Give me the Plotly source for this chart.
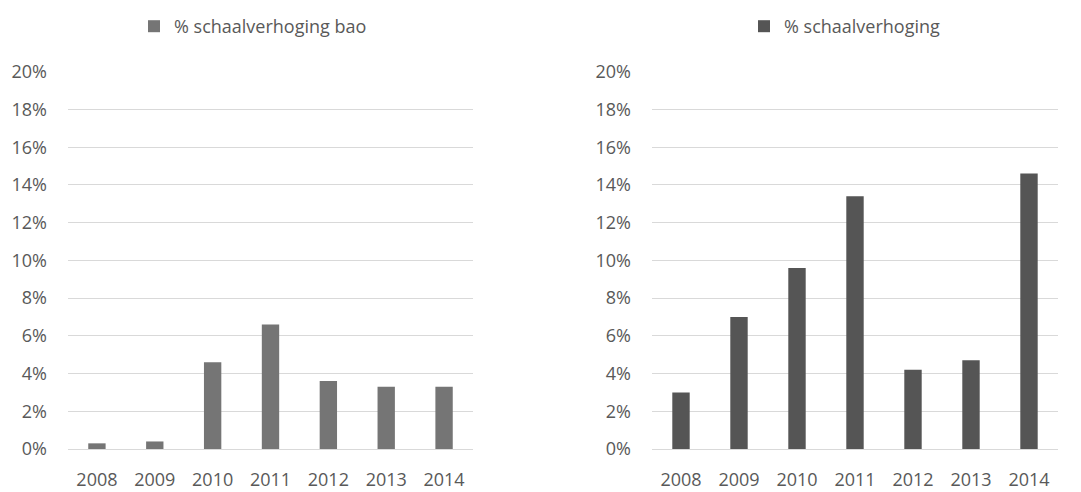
import plotly.graph_objects as go
from plotly.subplots import make_subplots

years = ["2008", "2009", "2010", "2011", "2012", "2013", "2014"]
bao_pct = [0.003, 0.004, 0.046, 0.066, 0.036, 0.033, 0.033]
total_pct = [0.030, 0.070, 0.096, 0.134, 0.042, 0.047, 0.146]

tick_vals = [0, 0.02, 0.04, 0.06, 0.08, 0.10, 0.12, 0.14, 0.16, 0.18, 0.20]
tick_text = ["0%", "2%", "4%", "6%", "8%", "10%", "12%", "14%", "16%", "18%", "20%"]

text_col = "#595959"
font_name = "Open Sans"

# page has an 8px body margin, so the figure is a bit smaller than the window
W, H = 1073, 484

fig = make_subplots(rows=1, cols=2)

fig.add_trace(go.Bar(x=years, y=bao_pct, name="% schaalverhoging bao",
                     marker_color="#757575", legend="legend", showlegend=True),
              row=1, col=1)
fig.add_trace(go.Bar(x=years, y=total_pct, name="% schaalverhoging",
                     marker_color="#555555", legend="legend2", showlegend=True),
              row=1, col=2)

fig.update_traces(marker_line_width=0)

ydom = [1 - 441 / H, 1 - 63 / H]
fig.update_layout(
    width=W, height=H,
    margin=dict(l=0, r=0, t=0, b=0, autoexpand=False),
    paper_bgcolor="white", plot_bgcolor="white",
    bargap=0.70,
    showlegend=True,
    font=dict(family=font_name, size=18, color=text_col),
    xaxis=dict(domain=[60 / W, 465 / W]),
    xaxis2=dict(domain=[644 / W, 1050 / W]),
    yaxis=dict(domain=ydom),
    yaxis2=dict(domain=ydom),
    legend=dict(x=245 / W, y=1, xanchor="center", yanchor="top",
                orientation="h", font=dict(size=18, color=text_col)),
    legend2=dict(x=837 / W, y=1, xanchor="center", yanchor="top",
                 orientation="h", font=dict(size=18, color=text_col)),
)

fig.update_xaxes(showgrid=False, showline=False, ticks="", ticklabelstandoff=18,
                 tickfont=dict(size=18, color=text_col))
fig.update_yaxes(range=[0, 0.2004], tickvals=tick_vals, ticktext=tick_text,
                 showgrid=True, gridcolor="#d9d9d9", gridwidth=1,
                 zeroline=True, zerolinecolor="#d9d9d9", zerolinewidth=1,
                 showline=False, ticks="", ticklabelstandoff=20,
                 tickfont=dict(size=18, color=text_col))

fig.write_html("out.html")
